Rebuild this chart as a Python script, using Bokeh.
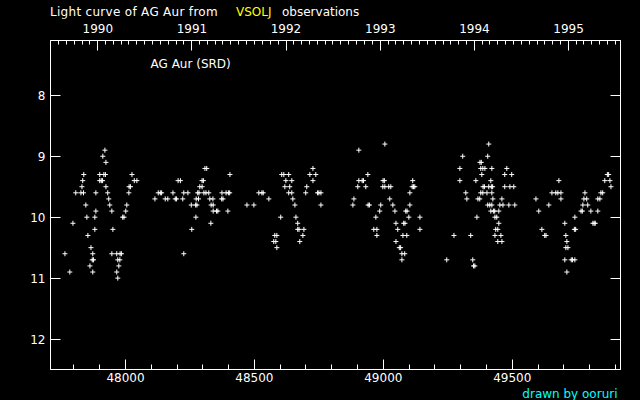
from datetime import date
from bokeh.plotting import figure
from bokeh.layouts import column
from bokeh.models import Range1d, LinearAxis, FixedTicker, Label, Title, Div
from bokeh.embed import file_html
from bokeh.resources import INLINE

# ---- data: JD - 2400000 and visual magnitude (VSOLJ observations of AG Aur)
jd1 = [47920, 47912, 47924, 48308, 48315,
       47838, 47900, 47916, 47922, 48025, 48405,
       47834, 47900, 47906, 47911, 48034, 48044, 48204, 48213, 48297, 48302,
       47831, 47924, 48014, 48019, 48288, 48297,
       47807, 47827, 47837, 47885, 47931, 48013, 48127, 48135, 48140, 48184, 48226,
       48242, 48280, 48285, 48304, 48312, 48323, 48374, 48390, 48399, 48404,
       47935, 48114, 48154, 48164, 48193, 48198, 48222, 48274, 48283, 48327, 48339,
       48373, 48378,
       47846, 47939, 48005, 48255, 48272, 48277, 48332, 48340, 48471,
       47885, 47947, 48001, 48340, 48353, 48358, 48397,
       47850, 47881, 47989, 47994, 48273,
       47796, 48331,
       47881, 47951, 48257,
       47854,
       47866,
       47765, 47873, 47947, 47966, 47979, 47984, 48226,
       47871, 47876, 47970, 47978,
       47862, 47974,
       47784, 47873, 47966,
       47970]
mag1 = [8.9, 9.0, 9.1, 9.2, 9.2,
        9.3, 9.3, 9.3, 9.3, 9.3, 9.3,
        9.4, 9.4, 9.4, 9.4, 9.4, 9.4, 9.4, 9.4, 9.4, 9.4,
        9.5, 9.5, 9.5, 9.5, 9.5, 9.5,
        9.6, 9.6, 9.6, 9.6, 9.6, 9.6, 9.6, 9.6, 9.6, 9.6, 9.6,
        9.6, 9.6, 9.6, 9.6, 9.6, 9.6, 9.6, 9.6, 9.6, 9.6,
        9.7, 9.7, 9.7, 9.7, 9.7, 9.7, 9.7, 9.7, 9.7, 9.7, 9.7,
        9.7, 9.7,
        9.8, 9.8, 9.8, 9.8, 9.8, 9.8, 9.8, 9.8, 9.8,
        9.9, 9.9, 9.9, 9.9, 9.9, 9.9, 9.9,
        10.0, 10.0, 10.0, 10.0, 10.0,
        10.1, 10.1,
        10.2, 10.2, 10.2,
        10.3,
        10.5,
        10.6, 10.6, 10.6, 10.6, 10.6, 10.6, 10.6,
        10.7, 10.7, 10.7, 10.7,
        10.8, 10.8,
        10.9, 10.9, 10.9,
        11.0]

jd2 = [49006,
       48905,
       48727,
       48606, 48614, 48633, 48715, 48738, 48940,
       48622, 48645, 48727, 48905, 48918, 48923, 48999, 49004, 49114,
       48618, 48637, 48703, 48901, 48932, 48998, 49006, 49021, 49029, 49112, 49117, 49122,
       48517, 48529, 48534, 48633, 48645, 48699, 48745, 48750, 48758, 49103,
       48556, 48649, 48886, 49025,
       48498, 48657, 48758, 48882, 48941, 48946, 48990, 49037, 49103,
       48986, 49045, 49087, 49092,
       48602, 48661, 48971, 49099, 49142,
       48668, 49049, 49079, 49084,
       48668, 48673, 48692, 48963, 48975, 49056, 49142,
       48579, 48587, 48688, 48975, 49076, 49091,
       48575, 48583, 48676, 49049,
       48587, 49062, 49067,
       49072, 49083,
       49072]
mag2 = [8.8,
        8.9,
        9.2,
        9.3, 9.3, 9.3, 9.3, 9.3, 9.3,
        9.4, 9.4, 9.4, 9.4, 9.4, 9.4, 9.4, 9.4, 9.4,
        9.5, 9.5, 9.5, 9.5, 9.5, 9.5, 9.5, 9.5, 9.5, 9.5, 9.5, 9.5,
        9.6, 9.6, 9.6, 9.6, 9.6, 9.6, 9.6, 9.6, 9.6, 9.6,
        9.7, 9.7, 9.7, 9.7,
        9.8, 9.8, 9.8, 9.8, 9.8, 9.8, 9.8, 9.8, 9.8,
        9.9, 9.9, 9.9, 9.9,
        10.0, 10.0, 10.0, 10.0, 10.0,
        10.1, 10.1, 10.1, 10.1,
        10.2, 10.2, 10.2, 10.2, 10.2, 10.2, 10.2,
        10.3, 10.3, 10.3, 10.3, 10.3, 10.3,
        10.4, 10.4, 10.4, 10.4,
        10.5, 10.5, 10.5,
        10.6, 10.6,
        10.7]

jd3 = [49409,
       49308, 49405,
       49375, 49380,
       49297, 49378, 49386, 49394, 49421, 49479,
       49382, 49471, 49498, 49869, 49874,
       49297, 49359, 49417, 49681, 49859, 49879,
       49387, 49392, 49409, 49419, 49424, 49471, 49491, 49506, 49883,
       49320, 49378, 49386, 49402, 49421, 49654, 49669, 49677, 49689, 49782, 49844, 49851,
       49324, 49367, 49374, 49425, 49460, 49592, 49689, 49778, 49789, 49832, 49840,
       49405, 49413, 49421, 49452, 49464, 49487, 49510, 49642, 49774, 49793,
       49417, 49427, 49432, 49448, 49603, 49767, 49772, 49805, 49832,
       49363, 49433, 49440, 49743,
       49448, 49704, 49813, 49818, 49822,
       49436, 49444, 49615, 49741, 49746,
       49274, 49339, 49433, 49456, 49626, 49631, 49708,
       49444, 49460, 49712,
       49708, 49716,
       49246, 49347, 49704, 49729, 49734, 49743,
       49350, 49355,
       49712]
mag3 = [8.8,
        9.0, 9.0,
        9.1, 9.1,
        9.2, 9.2, 9.2, 9.2, 9.2, 9.2,
        9.3, 9.3, 9.3, 9.3, 9.3,
        9.4, 9.4, 9.4, 9.4, 9.4, 9.4,
        9.5, 9.5, 9.5, 9.5, 9.5, 9.5, 9.5, 9.5, 9.5,
        9.6, 9.6, 9.6, 9.6, 9.6, 9.6, 9.6, 9.6, 9.6, 9.6, 9.6, 9.6,
        9.7, 9.7, 9.7, 9.7, 9.7, 9.7, 9.7, 9.7, 9.7, 9.7, 9.7,
        9.8, 9.8, 9.8, 9.8, 9.8, 9.8, 9.8, 9.8, 9.8, 9.8,
        9.9, 9.9, 9.9, 9.9, 9.9, 9.9, 9.9, 9.9, 9.9,
        10.0, 10.0, 10.0, 10.0,
        10.1, 10.1, 10.1, 10.1, 10.1,
        10.2, 10.2, 10.2, 10.2, 10.2,
        10.3, 10.3, 10.3, 10.3, 10.3, 10.3, 10.3,
        10.4, 10.4, 10.4,
        10.5, 10.5,
        10.7, 10.7, 10.7, 10.7, 10.7, 10.7,
        10.8, 10.8,
        10.9]

jd_ticks = [48000, 48500, 49000, 49500]
mag_ticks = [8, 9, 10, 11, 12]
year_labels = ["1990", "1991", "1992", "1993", "1994", "1995"]

# JD-2400000 of a calendar date (0h UT)
def jd_of(y, m):
    return date(y, m, 1).toordinal() - 678575.5

year_jd = [jd_of(int(y), 1) for y in year_labels]
month_jd = [jd_of(y, m) for y in range(1989, 1996) for m in range(1, 13)]

jd = jd1 + jd2 + jd3
mag = mag1 + mag2 + mag3

FONT = "DejaVu Sans"
FS = "12px"

p = figure(width=640, height=382, title=None,
           x_range=Range1d(47709, 49920), y_range=Range1d(12.5, 7.1),
           output_backend="svg", toolbar_location=None,
           background_fill_color="black", border_fill_color="black",
           min_border_left=50, min_border_right=20,
           min_border_top=22, min_border_bottom=30, margin=0)
p.grid.visible = False
p.outline_line_color = "white"
p.outline_line_width = 1

p.scatter(jd, mag, marker="cross", size=5, line_color="white", line_width=1)

def style(ax, minor_in):
    ax.axis_line_color = "white"
    ax.major_tick_line_color = "white"
    ax.minor_tick_line_color = "white"
    ax.major_tick_in = 10
    ax.major_tick_out = 0
    ax.minor_tick_in = minor_in
    ax.minor_tick_out = 0
    ax.major_label_text_color = "white"
    ax.major_label_text_font = FONT
    ax.major_label_text_font_size = FS

xb = p.xaxis[0]
xb.ticker = FixedTicker(ticks=jd_ticks, minor_ticks=list(range(47800, 49901, 100)))
style(xb, 5)
xb.major_label_standoff = 3

yl = p.yaxis[0]
yl.ticker = FixedTicker(ticks=mag_ticks, minor_ticks=[])
style(yl, 0)
yl.major_label_standoff = 5

yr = LinearAxis(ticker=FixedTicker(ticks=mag_ticks, minor_ticks=[]))
style(yr, 0)
yr.major_label_overrides = {t: "" for t in mag_ticks}
yr.major_label_standoff = 0
p.add_layout(yr, "right")

xt = LinearAxis(ticker=FixedTicker(ticks=year_jd, minor_ticks=month_jd))
style(xt, 4)
xt.major_label_overrides = {v: s for v, s in zip(year_jd, year_labels)}
xt.major_label_standoff = 8
p.add_layout(xt, "above")

p.add_layout(Label(x=48097, y=7.48, text="AG Aur (SRD)", text_color="white",
                   text_font=FONT, text_font_size=FS, text_baseline="alphabetic"))

credit = Title(text="drawn by ooruri", align="right", offset=3, standoff=0,
               text_color="#00ffff", text_font=FONT, text_font_size=FS,
               text_font_style="normal")
p.add_layout(credit, "below")

head = Div(width=640, height=18, margin=0,
           text=('<div style="padding:5px 0 0 50px;font-family:\'DejaVu Sans\';'
                 'font-size:12px;line-height:14px;white-space:nowrap;color:#ffffff;">'
                 '<span style="display:inline-block;width:186px;letter-spacing:0.3px;">Light curve of AG Aur from</span>'
                 '<span style="display:inline-block;width:46px;color:#ffff00;">VSOLJ</span>'
                 '<span>observations</span></div>'),
           styles={"background-color": "#000000", "overflow": "visible"})

layout = column(head, p, spacing=0, margin=0)
layout.styles = {"background-color": "#000000"}

template = """{% block preamble %}<style>html, body { background: #000000; }</style>{% endblock %}"""
open("out.html", "w").write(file_html(layout, INLINE, template=template))
